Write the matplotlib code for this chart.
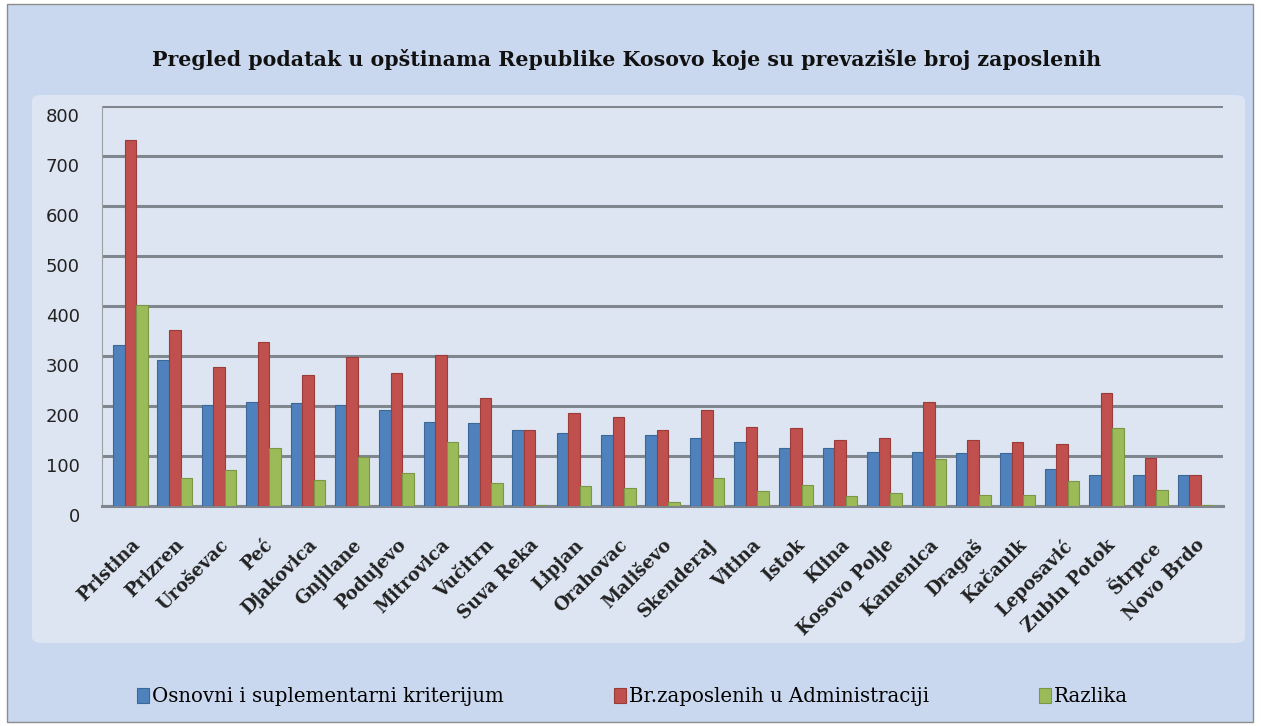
import matplotlib.pyplot as plt
import matplotlib.transforms as mtransforms
from matplotlib.patches import FancyBboxPatch, Rectangle
import numpy as np

opstine = ['Pristina', 'Prizren', 'Uroševac', 'Peć', 'Djakovica', 'Gnjilane',
           'Podujevo', 'Mitrovica', 'Vučitrn', 'Suva Reka', 'Lipjan', 'Orahovac',
           'Mališevo', 'Skenderaj', 'Vitina', 'Istok', 'Klina', 'Kosovo Polje',
           'Kamenica', 'Dragaš', 'Kačanik', 'Leposavić', 'Zubin Potok', 'Štrpce',
           'Novo Brdo']
kriterijum = [321, 291, 201, 208, 205, 201, 191, 168, 165, 151, 145, 141,
              141, 135, 128, 115, 115, 108, 108, 105, 105, 73, 61, 61, 61]
zaposleni = [731, 351, 278, 328, 261, 298, 265, 301, 215, 151, 185, 178,
             151, 191, 157, 155, 131, 135, 207, 131, 128, 123, 225, 95, 61]
razlika = [401, 55, 71, 115, 51, 98, 65, 128, 45, 2, 40, 35,
           8, 55, 29, 42, 19, 26, 93, 22, 22, 50, 156, 31, 2]
legenda = ['Osnovni i suplementarni kriterijum', 'Br.zaposlenih u Administraciji', 'Razlika']
boje = ['#4f81bd', '#c0504d', '#9bbb59']
ivice = ['#3c6797', '#9a3c3a', '#7b9646']

W, H = 1261, 726
fig = plt.figure(figsize=(W / 100, H / 100), dpi=100)
fig.patch.set_facecolor('white')

# outer chart area + inner plot panel
fig.patches.append(Rectangle((7 / W, 4 / H), 1246 / W, 718 / H, transform=fig.transFigure,
                             facecolor='#c9d8ee', edgecolor='#8c8c8c', lw=1, zorder=-10))
fig.patches.append(FancyBboxPatch((32 / W, (H - 643) / H), 1213 / W, 548 / H,
                                  transform=fig.transFigure,
                                  boxstyle='round,pad=0,rounding_size=0.008',
                                  facecolor='#dce5f1', edgecolor='none', zorder=-9))

ax = fig.add_axes([102 / W, (H - 506) / H, (1223 - 102) / W, (506 - 105.7) / H])
ax.set_facecolor('none')

x = np.arange(len(opstine))
w = 0.26
bars = []
for i, vals in enumerate([kriterijum, zaposleni, razlika]):
    bars.append(ax.bar(x + (i - 1) * w, vals, w, color=boje[i], edgecolor=ivice[i], lw=0.8,
                       label=legenda[i], zorder=3))

ax.set_xlim(-0.64, 24.63)
ax.set_ylim(0, 800)
ax.set_yticks(range(0, 801, 100))
ax.yaxis.grid(True, color='#80868d', lw=2.2, zorder=0)
ax.set_axisbelow(True)
for s in ax.spines.values():
    s.set_visible(False)
ax.spines['bottom'].set_visible(True)
ax.spines['bottom'].set_color('#80868d')
ax.spines['bottom'].set_linewidth(2.2)
ax.spines['left'].set_visible(True)
ax.spines['left'].set_color('#9a9fa5')
ax.tick_params(axis='both', length=0)
ax.tick_params(axis='y', labelsize=13, pad=16, labelcolor='#222222')
yoff = mtransforms.ScaledTranslation(0, -0.09, fig.dpi_scale_trans)
for t in ax.get_yticklabels():
    t.set_transform(t.get_transform() + yoff)

ax.set_xticks(x)
ax.set_xticklabels(opstine, rotation=45, ha='right', va='top', rotation_mode='anchor',
                   fontfamily='DejaVu Serif', fontweight='bold', fontsize=13,
                   color='#222222')
ax.tick_params(axis='x', pad=0)
off = mtransforms.ScaledTranslation(0.0, -0.30, fig.dpi_scale_trans)
for t in ax.get_xticklabels():
    t.set_transform(t.get_transform() + off)

fig.text(627 / W, (H - 60) / H, 'Pregled podatak u opštinama Republike Kosovo koje su prevazišle broj zaposlenih',
         ha='center', va='center', fontfamily='DejaVu Serif', fontweight='bold', fontsize=14.8,
         color='#111111')

for i, xl in enumerate([137, 614, 1039]):
    fig.legend(handles=[bars[i]], labels=[legenda[i]], loc='center left',
               bbox_to_anchor=(xl / W, (H - 697) / H), frameon=False,
               prop={'family': 'DejaVu Serif', 'size': 14.2}, handlelength=0.6,
               handleheight=0.75, handletextpad=0.15, borderaxespad=0, borderpad=0)

fig.savefig('out.png', dpi=100)
